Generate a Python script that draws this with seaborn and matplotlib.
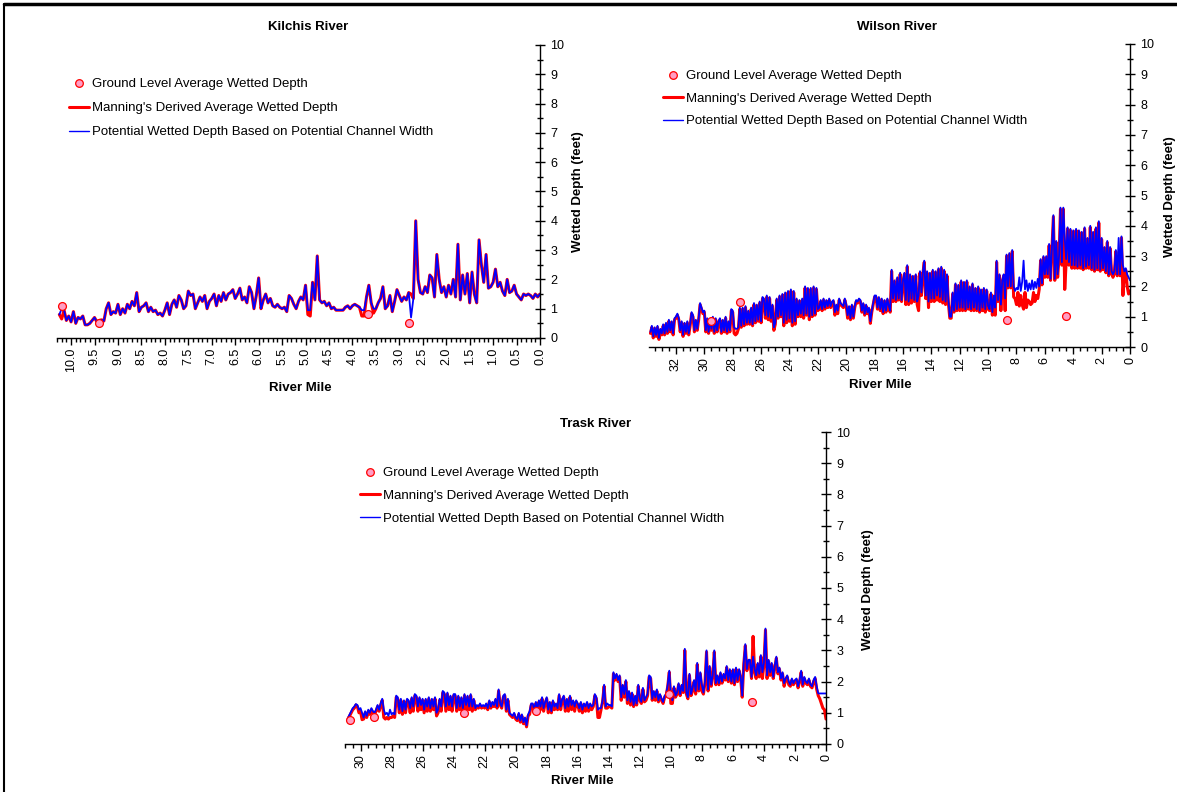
import numpy as np
import matplotlib
matplotlib.use("Agg")
import matplotlib.pyplot as plt
from matplotlib.lines import Line2D
from matplotlib.ticker import MultipleLocator, FormatStrFormatter
import seaborn as sns

sns.set_theme(style="white")
plt.rcParams["font.family"] = ["Liberation Sans", "DejaVu Sans"]
plt.rcParams["text.color"] = "black"
plt.rcParams["xtick.color"] = "black"
plt.rcParams["ytick.color"] = "black"

W, H = 1177, 792

LEGEND_LABELS = [
    "Ground Level Average Wetted Depth",
    "Manning's Derived Average Wetted Depth",
    "Potential Wetted Depth Based on Potential Channel Width",
]

# ---- Kilchis River: stations every 0.05 mile, 10.25 -> 0.00 ----
kilchis_manning = [
    0.80, 0.65, 0.95, 0.60, 0.75, 0.55, 0.90, 0.50, 0.70, 0.65,
    0.75, 0.45, 0.45, 0.50, 0.60, 0.70, 0.55, 0.60, 0.62, 0.58,
    1.00, 1.20, 0.80, 0.90, 0.85, 1.15, 0.80, 1.00, 0.85, 1.15,
    1.00, 1.25, 1.10, 1.55, 0.90, 1.05, 1.10, 1.20, 0.90, 1.05,
    0.90, 0.95, 0.80, 0.85, 0.75, 0.95, 1.20, 0.80, 1.15, 1.30,
    1.05, 1.45, 1.30, 1.00, 1.10, 1.60, 1.45, 1.50, 1.00, 1.20,
    1.40, 1.25, 1.45, 1.00, 1.25, 1.35, 1.50, 1.10, 1.45, 1.25,
    1.55, 1.30, 1.50, 1.55, 1.65, 1.35, 1.50, 1.70, 1.30, 1.40,
    1.20, 1.75, 1.55, 1.00, 1.45, 2.05, 1.00, 1.30, 1.50, 1.20,
    1.35, 1.10, 1.05, 1.15, 1.05, 1.00, 1.05, 0.90, 1.45, 1.35,
    1.15, 1.00, 1.25, 1.40, 1.30, 1.80, 0.80, 0.75, 1.90, 1.30,
    2.80, 1.30, 1.20, 1.25, 1.10, 1.20, 1.00, 1.05, 0.95, 0.95,
    0.95, 0.95, 1.05, 1.10, 1.00, 1.10, 1.15, 1.10, 1.05, 0.75,
    0.75, 1.40, 1.80, 1.20, 0.85, 1.00, 1.20, 1.35, 1.75, 1.00,
    1.10, 1.45, 0.90, 1.25, 1.65, 1.45, 1.25, 1.40, 1.30, 1.55,
    1.50, 1.35, 4.00, 2.00, 1.55, 1.50, 1.75, 1.55, 2.15, 2.05,
    1.40, 2.85, 2.00, 1.55, 1.75, 1.40, 1.80, 1.50, 2.00, 1.40,
    3.20, 1.30, 2.15, 1.50, 2.20, 1.20, 2.25, 1.50, 1.20, 3.35,
    2.50, 1.90, 2.85, 1.70, 1.75, 1.90, 2.35, 1.75, 1.90, 1.60,
    1.45, 2.00, 1.55, 1.60, 1.80, 1.50, 1.40, 1.30, 1.50, 1.45,
    1.50, 1.45, 1.35, 1.50, 1.40, 1.50,
]
kilchis_potential = [
    0.80, 1.00, 0.95, 0.60, 0.75, 0.55, 0.90, 0.50, 0.70, 0.65,
    0.75, 0.45, 0.45, 0.50, 0.60, 0.70, 0.55, 0.60, 0.62, 0.58,
    1.00, 1.20, 0.80, 0.90, 0.85, 1.15, 0.80, 1.00, 0.85, 1.15,
    1.00, 1.25, 1.10, 1.55, 0.90, 1.05, 1.10, 1.20, 0.90, 1.05,
    0.90, 0.95, 0.80, 0.85, 0.75, 0.95, 1.20, 0.80, 1.15, 1.30,
    1.05, 1.45, 1.30, 1.00, 1.10, 1.60, 1.45, 1.50, 1.00, 1.20,
    1.40, 1.25, 1.45, 1.00, 1.25, 1.35, 1.50, 1.10, 1.45, 1.25,
    1.55, 1.30, 1.50, 1.55, 1.65, 1.35, 1.50, 1.70, 1.30, 1.40,
    1.20, 1.75, 1.55, 1.00, 1.45, 2.05, 1.00, 1.30, 1.50, 1.20,
    1.35, 1.10, 1.05, 1.15, 1.05, 1.00, 1.05, 0.90, 1.45, 1.35,
    1.15, 1.00, 1.25, 1.40, 1.30, 1.80, 0.95, 0.95, 1.90, 1.30,
    2.80, 1.30, 1.20, 1.25, 1.10, 1.20, 1.00, 1.05, 0.95, 0.95,
    0.95, 0.95, 1.05, 1.10, 1.00, 1.10, 1.15, 1.10, 1.05, 0.95,
    0.95, 1.40, 1.80, 1.20, 1.00, 1.00, 1.20, 1.35, 1.75, 1.00,
    1.10, 1.45, 0.90, 1.25, 1.65, 1.45, 1.25, 1.40, 1.30, 1.55,
    0.70, 1.35, 4.00, 2.00, 1.55, 1.50, 1.75, 1.55, 2.15, 2.05,
    1.40, 2.85, 2.00, 1.55, 1.75, 1.40, 1.80, 1.50, 2.00, 1.40,
    3.20, 1.30, 2.15, 1.50, 2.20, 1.20, 2.25, 1.50, 1.20, 3.35,
    2.50, 1.90, 2.85, 1.70, 1.75, 1.90, 2.35, 1.75, 1.90, 1.60,
    1.45, 2.00, 1.55, 1.60, 1.80, 1.50, 1.40, 1.30, 1.50, 1.45,
    1.50, 1.45, 1.35, 1.50, 1.40, 1.50,
]
kilchis_ground_mile = [10.19, 9.41, 3.66, 2.79]
kilchis_ground_depth = [1.08, 0.52, 0.82, 0.50]

# ---- Wilson River: stations every 0.1 mile, 33.8 -> 0.0 (one row per mile) ----
wilson_manning = [
    0.45, 0.65, 0.30, 0.60, 0.35, 0.65, 0.25, 0.55, 0.40,
    0.70, 0.40, 0.75, 0.45, 0.85, 0.50, 0.80, 0.40, 0.90, 0.95,
    1.05, 0.90, 0.50, 0.80, 0.35, 0.75, 0.45, 0.80, 0.40, 0.70,
    1.10, 1.00, 0.50, 0.85, 0.55, 0.90, 1.40, 1.25, 1.10, 1.15,
    0.50, 0.90, 0.45, 0.85, 0.55, 0.95, 0.45, 0.90, 0.50, 0.80,
    0.90, 0.45, 0.85, 0.50, 0.95, 0.45, 0.80, 0.50, 1.20, 1.15,
    0.45, 0.40, 0.45, 0.60, 1.25, 0.65, 1.25, 0.70, 1.30, 0.75,
    1.15, 0.75, 1.25, 0.70, 1.40, 0.80, 1.35, 0.85, 1.45, 0.80,
    1.60, 1.55, 0.95, 1.65, 0.90, 1.60, 0.85, 1.35, 0.55, 0.75,
    1.55, 0.95, 1.65, 1.00, 1.70, 0.70, 1.75, 0.80, 1.80, 0.85,
    1.85, 0.70, 1.80, 0.75, 1.55, 1.00, 1.50, 1.00, 1.55, 0.95,
    1.95, 1.05, 1.90, 0.90, 1.90, 1.00, 1.95, 1.05, 1.90, 1.20,
    1.25, 1.50, 1.20, 1.55, 1.25, 1.50, 1.30, 1.55, 1.30, 1.45,
    1.50, 1.05, 1.35, 1.10, 1.55, 1.40, 1.35, 1.30, 1.55, 1.35,
    0.95, 1.30, 0.90, 1.35, 0.95, 1.30, 1.50, 1.45, 1.55, 1.50,
    1.15, 1.40, 1.05, 1.35, 1.10, 1.25, 0.78, 1.15, 1.40, 1.65,
    1.65, 1.25, 1.60, 1.20, 1.55, 1.10, 1.50, 1.15, 1.55, 1.30,
    1.15, 2.50, 1.50, 2.15, 1.50, 2.25, 1.55, 2.40, 1.50, 2.15,
    2.40, 1.40, 2.65, 1.40, 2.35, 1.45, 2.30, 1.50, 2.35, 1.40,
    1.20, 2.45, 1.70, 2.40, 2.80, 1.60, 2.45, 1.30, 2.40, 1.50,
    2.50, 1.50, 2.45, 1.55, 2.55, 1.50, 2.60, 1.45, 2.50, 1.40,
    2.35, 1.45, 0.95, 0.95, 1.75, 1.15, 2.05, 1.20, 2.00, 1.20,
    2.15, 1.20, 2.10, 1.20, 2.15, 1.25, 1.95, 1.20, 2.05, 1.20,
    1.90, 1.20, 1.95, 1.15, 1.85, 1.20, 1.90, 1.15, 1.85, 1.25,
    1.20, 1.75, 1.05, 1.65, 1.05, 2.80, 1.50, 2.35, 1.20, 2.15,
    2.35, 1.20, 3.00, 1.95, 3.05, 1.95, 3.15, 1.65, 1.60, 1.40,
    1.80, 1.35, 1.70, 1.40, 1.25, 1.80, 1.30, 1.55, 1.50, 1.40,
    1.45, 1.80, 1.50, 1.70, 1.60, 1.90, 2.85, 2.05, 2.95, 2.30,
    2.95, 2.30, 3.35, 2.20, 3.25, 4.30, 2.20, 3.45, 2.30, 2.95,
    4.55, 2.70, 4.55, 1.90, 2.80, 3.90, 2.70, 3.85, 2.60, 3.80,
    2.60, 3.85, 2.60, 3.80, 2.60, 3.75, 2.55, 3.90, 2.60, 3.55,
    2.60, 3.95, 2.55, 3.75, 2.50, 3.90, 2.55, 4.10, 2.50, 3.55,
    2.55, 3.25, 2.45, 3.45, 2.35, 3.25, 2.45, 2.30, 2.45, 3.15,
    2.35, 2.80, 2.35, 3.60, 1.70, 2.40, 2.55, 2.00, 1.75, 1.85,
]
wilson_potential = [
    0.50, 0.70, 0.35, 0.65, 0.40, 0.70, 0.30, 0.60, 0.45,
    0.75, 0.45, 0.80, 0.50, 0.90, 0.55, 0.85, 0.45, 0.95, 1.00,
    1.10, 0.95, 0.55, 0.85, 0.40, 0.80, 0.50, 0.85, 0.45, 0.75,
    1.15, 1.05, 0.55, 0.90, 0.60, 0.95, 1.45, 1.30, 1.15, 1.20,
    0.55, 0.95, 0.50, 0.90, 0.60, 1.00, 0.50, 0.95, 0.55, 0.85,
    0.95, 0.50, 0.90, 0.55, 1.00, 0.50, 0.85, 0.55, 1.25, 1.20,
    0.65, 0.60, 0.60, 0.65, 1.30, 0.70, 1.30, 0.75, 1.35, 0.80,
    1.20, 0.80, 1.30, 0.75, 1.45, 0.85, 1.40, 0.90, 1.50, 0.85,
    1.65, 1.60, 1.05, 1.70, 1.00, 1.65, 0.95, 1.40, 0.65, 0.80,
    1.60, 1.00, 1.70, 1.05, 1.75, 0.80, 1.80, 0.90, 1.85, 0.95,
    1.90, 0.80, 1.85, 0.85, 1.60, 1.05, 1.55, 1.10, 1.60, 1.05,
    2.00, 1.10, 1.95, 1.00, 1.95, 1.05, 2.00, 1.10, 1.95, 1.25,
    1.30, 1.55, 1.25, 1.60, 1.30, 1.55, 1.35, 1.60, 1.35, 1.50,
    1.55, 1.15, 1.40, 1.20, 1.60, 1.45, 1.40, 1.35, 1.60, 1.40,
    1.05, 1.35, 0.95, 1.40, 1.00, 1.35, 1.55, 1.50, 1.60, 1.55,
    1.20, 1.45, 1.10, 1.40, 1.15, 1.30, 0.85, 1.20, 1.45, 1.70,
    1.70, 1.30, 1.65, 1.25, 1.60, 1.15, 1.55, 1.20, 1.60, 1.35,
    1.20, 2.55, 1.60, 2.20, 1.55, 2.30, 1.60, 2.45, 1.55, 2.20,
    2.45, 1.55, 2.70, 1.50, 2.40, 1.60, 2.35, 1.55, 2.40, 1.50,
    1.70, 2.50, 1.80, 2.45, 2.85, 1.70, 2.50, 1.50, 2.45, 1.60,
    2.55, 1.60, 2.50, 1.70, 2.60, 1.65, 2.65, 1.55, 2.55, 1.50,
    2.40, 1.55, 1.00, 1.00, 1.80, 1.20, 2.10, 1.25, 2.05, 1.30,
    2.20, 1.30, 2.15, 1.25, 2.20, 1.30, 2.00, 1.25, 2.10, 1.30,
    1.95, 1.25, 2.00, 1.20, 1.90, 1.30, 1.95, 1.25, 1.90, 1.35,
    1.25, 1.80, 1.15, 1.70, 1.30, 2.85, 1.55, 2.40, 1.40, 2.20,
    2.40, 1.60, 3.05, 2.00, 3.10, 2.00, 3.20, 2.00, 1.85, 1.95,
    1.90, 2.30, 1.85, 2.15, 2.85, 1.90, 2.20, 1.85, 2.10, 1.90,
    2.20, 1.90, 2.15, 1.95, 2.25, 2.00, 2.90, 2.10, 3.00, 2.40,
    3.00, 2.40, 3.40, 2.25, 3.30, 4.35, 2.25, 3.50, 2.40, 3.00,
    4.60, 2.80, 4.60, 3.60, 2.90, 3.95, 2.80, 3.90, 2.70, 3.85,
    2.70, 3.90, 2.65, 3.85, 2.70, 3.80, 2.60, 3.95, 2.65, 3.60,
    2.70, 4.00, 2.60, 3.80, 2.55, 3.95, 2.60, 4.15, 2.55, 3.60,
    2.60, 3.30, 2.50, 3.50, 2.40, 3.30, 2.50, 2.40, 2.50, 3.20,
    2.40, 3.60, 2.40, 3.65, 2.70, 2.50, 2.60, 2.40, 2.30, 2.20,
]
wilson_ground_mile = [29.56, 27.47, 8.65, 4.50]
wilson_ground_depth = [0.86, 1.50, 0.88, 1.02]

# ---- Trask River: stations every 0.1 mile, 30.8 -> 0.0 (one row per mile) ----
trask_manning = [
    0.80, 0.90, 1.00, 1.10, 1.15, 1.25, 1.20, 1.00, 1.05,
    0.78, 0.80, 1.00, 0.85, 1.05, 0.95, 1.10, 1.00, 0.95, 1.05,
    1.20, 1.05, 1.25, 1.40, 0.85, 0.80, 0.85, 0.80, 0.85, 0.85,
    0.90, 0.85, 1.50, 1.45, 1.00, 1.40, 0.95, 1.35, 1.00, 1.40,
    1.35, 1.00, 1.45, 1.05, 1.55, 1.50, 1.05, 1.45, 1.10, 1.40,
    1.00, 1.40, 1.05, 1.45, 1.05, 1.40, 1.10, 1.45, 0.90, 1.00,
    1.40, 1.05, 1.65, 1.60, 1.05, 1.60, 1.10, 1.50, 1.05, 1.55,
    1.55, 1.05, 1.50, 1.10, 1.45, 1.05, 1.55, 1.10, 1.50, 1.10,
    1.55, 1.05, 1.40, 1.10, 1.20, 1.15, 1.25, 1.15, 1.20, 1.15,
    1.25, 1.10, 1.35, 1.15, 1.30, 1.20, 1.40, 1.15, 1.70, 1.25,
    1.15, 1.50, 1.55, 1.05, 1.40, 0.95, 0.90, 0.85, 0.95, 0.80,
    0.75, 0.95, 0.70, 0.90, 0.65, 0.80, 0.55, 0.90, 0.95, 1.25,
    1.25, 1.00, 1.30, 1.05, 1.35, 1.10, 1.45, 1.05, 1.30, 1.45,
    1.00, 1.30, 1.00, 1.35, 1.10, 1.25, 1.10, 1.55, 1.10, 1.40,
    1.50, 1.05, 1.40, 1.05, 1.50, 1.10, 1.35, 1.05, 1.35, 1.25,
    1.05, 1.30, 1.00, 1.25, 1.05, 1.30, 1.05, 1.25, 1.10, 1.20,
    1.55, 1.45, 0.85, 0.85, 1.10, 1.35, 1.85, 1.15, 1.15, 1.20,
    1.20, 1.15, 2.25, 2.05, 2.20, 2.00, 2.15, 1.40, 1.85, 1.50,
    2.00, 1.30, 1.65, 1.25, 1.60, 1.20, 1.50, 1.25, 1.85, 1.40,
    1.30, 1.75, 1.35, 1.40, 1.55, 2.15, 2.10, 1.40, 1.65, 1.40,
    1.70, 1.35, 1.55, 1.40, 1.30, 1.50, 1.55, 1.85, 2.30, 1.30,
    1.30, 1.80, 1.50, 1.60, 1.90, 1.55, 1.85, 1.65, 3.00, 1.60,
    1.45, 2.20, 1.55, 1.70, 2.00, 1.60, 2.55, 1.70, 2.25, 1.70,
    1.60, 1.95, 2.95, 1.70, 2.45, 1.85, 2.15, 2.95, 1.90, 2.15,
    1.90, 2.25, 1.95, 2.20, 2.05, 2.45, 2.00, 2.35, 1.95, 2.35,
    1.90, 2.40, 2.00, 2.35, 2.10, 1.50, 2.55, 3.15, 2.35, 2.65,
    2.65, 2.10, 3.45, 2.30, 2.10, 2.55, 2.15, 2.80, 2.10, 2.55,
    3.65, 2.10, 2.65, 2.20, 2.55, 2.10, 2.45, 2.75, 2.25, 2.40,
    2.05, 2.25, 1.85, 2.05, 2.15, 1.90, 1.85, 2.05, 1.90, 2.00,
    2.05, 1.80, 2.00, 2.30, 1.85, 2.10, 1.95, 1.90, 2.05, 1.85,
    1.80, 2.00, 2.10, 1.75, 1.55, 1.45, 1.30, 1.15, 1.10, 0.80,
]
trask_potential = [
    0.85, 0.95, 1.05, 1.15, 1.20, 1.28, 1.25, 1.10, 1.15,
    1.00, 0.85, 1.05, 0.90, 1.10, 1.00, 1.15, 1.05, 1.00, 1.10,
    1.25, 1.10, 1.30, 1.45, 1.10, 0.95, 1.00, 0.90, 1.10, 0.95,
    1.00, 0.95, 1.55, 1.50, 1.10, 1.45, 1.05, 1.40, 1.10, 1.45,
    1.40, 1.15, 1.50, 1.20, 1.60, 1.55, 1.20, 1.50, 1.25, 1.45,
    1.10, 1.45, 1.20, 1.50, 1.15, 1.45, 1.20, 1.50, 1.00, 1.10,
    1.45, 1.20, 1.70, 1.65, 1.20, 1.65, 1.25, 1.55, 1.20, 1.60,
    1.60, 1.15, 1.55, 1.20, 1.50, 1.15, 1.60, 1.25, 1.55, 1.20,
    1.60, 1.20, 1.45, 1.15, 1.25, 1.20, 1.30, 1.20, 1.25, 1.20,
    1.30, 1.15, 1.40, 1.20, 1.35, 1.25, 1.45, 1.20, 1.75, 1.30,
    1.20, 1.55, 1.60, 1.10, 1.45, 1.00, 0.95, 0.90, 1.00, 0.85,
    0.80, 1.00, 0.75, 0.95, 0.70, 0.85, 0.60, 0.95, 1.05, 1.30,
    1.30, 1.10, 1.35, 1.15, 1.40, 1.20, 1.50, 1.15, 1.35, 1.50,
    1.10, 1.35, 1.05, 1.40, 1.20, 1.30, 1.15, 1.60, 1.20, 1.45,
    1.55, 1.15, 1.45, 1.20, 1.55, 1.25, 1.40, 1.20, 1.40, 1.30,
    1.15, 1.35, 1.10, 1.30, 1.20, 1.35, 1.15, 1.30, 1.20, 1.25,
    1.60, 1.50, 1.10, 1.15, 1.15, 1.40, 1.90, 1.20, 1.30, 1.25,
    1.25, 1.20, 2.30, 2.10, 2.25, 2.05, 2.20, 1.50, 1.90, 1.60,
    2.05, 1.40, 1.70, 1.35, 1.65, 1.25, 1.55, 1.30, 1.90, 1.45,
    1.35, 1.80, 1.40, 1.50, 1.60, 2.20, 2.15, 1.45, 1.70, 1.50,
    1.75, 1.40, 1.60, 1.45, 1.35, 1.55, 1.60, 1.90, 2.35, 1.65,
    1.40, 1.85, 1.55, 1.65, 1.95, 1.60, 1.90, 1.70, 3.05, 1.65,
    1.50, 2.25, 1.60, 1.80, 2.05, 1.70, 2.60, 1.75, 2.30, 1.90,
    1.65, 2.00, 3.00, 1.75, 2.50, 1.90, 2.20, 3.00, 1.95, 2.20,
    1.95, 2.30, 2.00, 2.25, 2.10, 2.50, 2.05, 2.40, 2.00, 2.40,
    1.95, 2.45, 2.05, 2.40, 2.15, 1.55, 2.60, 3.20, 2.40, 2.70,
    2.70, 2.15, 2.80, 2.40, 2.20, 2.60, 2.25, 2.85, 2.30, 2.60,
    3.70, 2.20, 2.70, 2.30, 2.60, 2.15, 2.50, 2.80, 2.30, 2.45,
    2.10, 2.30, 1.95, 2.10, 2.20, 2.00, 1.90, 2.10, 1.95, 2.05,
    2.10, 1.85, 2.05, 2.35, 1.90, 2.15, 2.00, 1.95, 2.10, 1.90,
    1.85, 2.05, 2.15, 1.85, 1.62, 1.62, 1.62, 1.62, 1.62, 1.62,
]
trask_ground_mile = [30.7, 29.1, 23.3, 18.7, 10.1, 4.75]
trask_ground_depth = [0.77, 0.87, 0.99, 1.05, 1.61, 1.35]

RED = "#ff0000"
BLUE = "#0000ff"
PINK = "#ff9ec4"


def fig_px(x, y):
    return x / W, 1 - y / H


def draw_river(fig, box, start, manning, potential, g_mile, g_depth,
               xmax, major, minor, fmt):
    left, top, right, bottom = box
    ax = fig.add_axes([left / W, 1 - bottom / H, (right - left) / W, (bottom - top) / H])
    miles = np.linspace(start, 0, len(manning))
    sns.lineplot(x=miles, y=manning, ax=ax, color=RED, linewidth=2.2,
                 estimator=None, sort=False, legend=False)
    sns.lineplot(x=miles, y=potential, ax=ax, color=BLUE, linewidth=1.3,
                 estimator=None, sort=False, legend=False)
    sns.scatterplot(x=g_mile, y=g_depth, ax=ax, color=PINK, edgecolor=RED,
                    linewidth=0.9, s=32, zorder=5, legend=False)
    ax.set_xlim(xmax, 0)
    ax.set_ylim(0, 10)
    ax.set_facecolor("none")
    for side in ["top", "left"]:
        ax.spines[side].set_visible(False)
    for side in ["bottom", "right"]:
        ax.spines[side].set_visible(True)
        ax.spines[side].set_color("black")
        ax.spines[side].set_linewidth(1.0)
    ax.yaxis.tick_right()
    ax.xaxis.set_major_locator(MultipleLocator(major))
    ax.xaxis.set_minor_locator(MultipleLocator(minor))
    ax.xaxis.set_major_formatter(FormatStrFormatter(fmt))
    ax.yaxis.set_major_locator(MultipleLocator(1))
    ax.yaxis.set_minor_locator(MultipleLocator(0.5))
    ax.tick_params(axis="x", which="both", bottom=True, top=False, direction="out",
                   labelsize=9, labelrotation=90, pad=2, width=1)
    ax.tick_params(axis="x", which="major", length=5)
    ax.tick_params(axis="x", which="minor", length=3)
    ax.tick_params(axis="y", which="both", right=True, left=False, direction="inout",
                   labelsize=9, pad=4, width=1)
    ax.tick_params(axis="y", which="major", length=7)
    ax.tick_params(axis="y", which="minor", length=4)
    ax.set_xlabel("")
    ax.set_ylabel("")
    ax.grid(False)
    return ax


def add_legend(fig, ax, x, y, spacing):
    handles = [
        Line2D([], [], linestyle="none", marker="o", markersize=5.5,
               markerfacecolor=PINK, markeredgecolor=RED, markeredgewidth=0.9),
        Line2D([], [], color=RED, linewidth=2.2),
        Line2D([], [], color=BLUE, linewidth=1.0),
    ]
    ax.legend(handles, LEGEND_LABELS, loc="upper left",
              bbox_to_anchor=fig_px(x, y), bbox_transform=fig.transFigure,
              frameon=False, fontsize=9.5, handlelength=1.5, handletextpad=0.25,
              labelspacing=spacing, borderpad=0, borderaxespad=0)


fig = plt.figure(figsize=(W / 100, H / 100), dpi=100)

ax_k = draw_river(fig, (57, 45, 540, 338), 10.25, kilchis_manning, kilchis_potential,
                  kilchis_ground_mile, kilchis_ground_depth, 10.3, 0.5, 0.1, "%.1f")
ax_w = draw_river(fig, (649, 44, 1130, 347), 33.8, wilson_manning, wilson_potential,
                  wilson_ground_mile, wilson_ground_depth, 33.9, 2, 0.5, "%d")
ax_t = draw_river(fig, (345, 432, 826, 744), 30.8, trask_manning, trask_potential,
                  trask_ground_mile, trask_ground_depth, 31.0, 2, 0.5, "%d")

add_legend(fig, ax_k, 69, 78, 0.9)
add_legend(fig, ax_w, 663, 70, 0.78)
add_legend(fig, ax_t, 360, 467, 0.8)

titles = [("Kilchis River", 308, 27), ("Wilson River", 897, 27), ("Trask River", 596, 424)]
for text, x, y in titles:
    fig.text(*fig_px(x, y), text, ha="center", va="center", fontsize=9.5, fontweight="bold")

xlabels = [(300, 388), (880, 385), (582, 781)]
for x, y in xlabels:
    fig.text(*fig_px(x, y), "River Mile", ha="center", va="center", fontsize=9.5, fontweight="bold")

ylabels = [(578, 192), (1170, 197), (868, 590)]
for x, y in ylabels:
    fig.text(*fig_px(x, y), "Wetted Depth (feet)", ha="center", va="center",
             rotation=90, fontsize=9.5, fontweight="bold")

# outer frame of the page
fig.add_artist(Line2D([4 / W, 4 / W], [0, 1 - 4 / H], transform=fig.transFigure,
                      color="black", linewidth=1.5))
fig.add_artist(Line2D([4 / W, 1], [1 - 4 / H, 1 - 4 / H], transform=fig.transFigure,
                      color="black", linewidth=2.5))

fig.savefig("out.png", dpi=100)
